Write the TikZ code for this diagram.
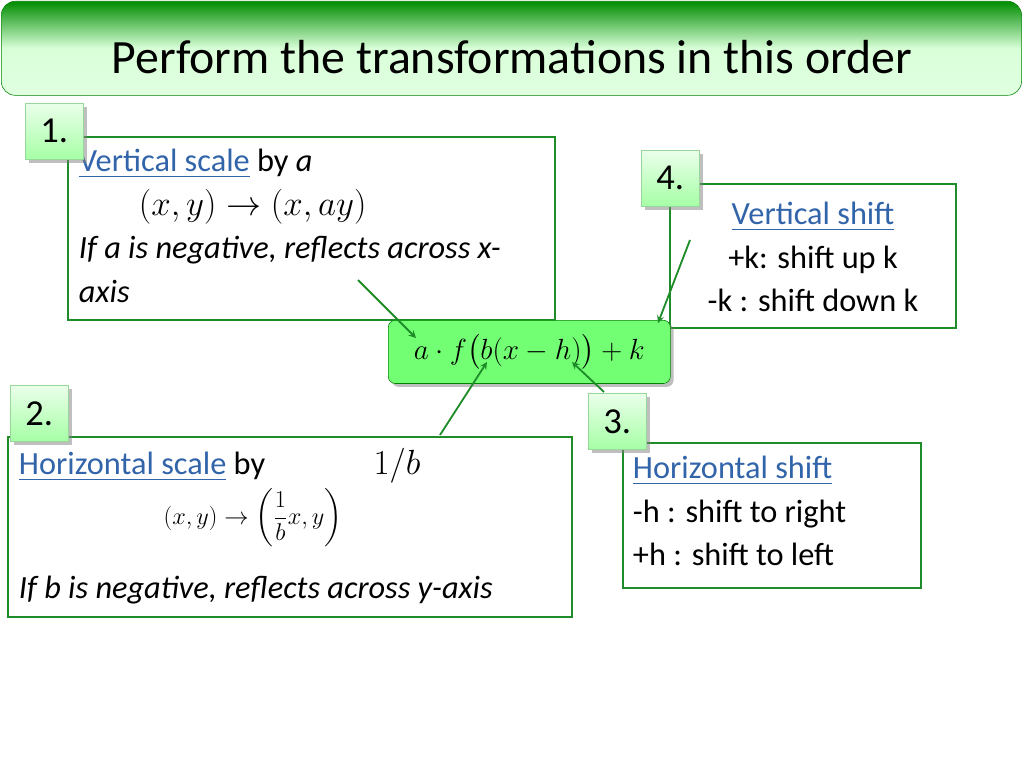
\documentclass[tikz,border=0pt]{standalone}
\usepackage{amsmath}
\usepackage{fontspec}
\setmainfont{Carlito}
\usetikzlibrary{shadows}
\definecolor{boxgreen}{RGB}{30,140,40}
\definecolor{headblue}{RGB}{50,100,170}
\newcommand{\hd}[1]{\textcolor{headblue}{\underline{#1}}}
\tikzset{
  framebox/.style={draw=boxgreen, line width=1.2pt, anchor=north west, inner sep=0pt},
  bodytext/.style={font=\fontsize{23}{31}\selectfont},
  numtag/.style={draw=green!60!black!40, top color=green!8, bottom color=green!35,
    drop shadow, minimum width=1.45cm, minimum height=1.4cm, font=\fontsize{26}{30}\selectfont, anchor=north west},
  pointer/.style={draw=boxgreen, line width=1.3pt, ->, >=stealth}
}
\begin{document}
\begin{tikzpicture}[x=0.025cm,y=-0.025cm]
\useasboundingbox (0,0) rectangle (1024,768);
% title
\node[rounded corners=10pt, draw=green!50!black, top color=green!55!black, bottom color=green!12,
  middle color=green!15, minimum width=25.5cm, minimum height=2.35cm, anchor=north west] (title) at (1,1) {};
\node[font=\fontsize{34}{38}\selectfont] (ttext) at (512,57) {Perform the transformations in this order};
% boxes
\draw[framebox] (68,137) rectangle (555,320);
\node[anchor=north west, align=left, bodytext] (vs) at (74,144)
  {\hd{Vertical scale} by \textit{a}\\
   \hspace{1.5cm}$(x,y)\rightarrow(x,ay)$\\
   \textit{If a is negative, reflects across x-}\\ \textit{axis}};
\draw[framebox] (670,184) rectangle (956,328);
\node[align=center, bodytext] (vsh) at (813,257)
  {\hd{Vertical shift}\\ +k: shift up k\\ -k : shift down k};
\draw[framebox] (8,437) rectangle (572,617);
\node[anchor=west, bodytext] (hs) at (14,467) {\hd{Horizontal scale} by};
\node[font=\fontsize{34}{38}\selectfont] (ib) at (397,466) {$1/b$};
\node[font=\fontsize{19}{23}\selectfont] (hm) at (253,518) {$(x,y)\rightarrow\left(\dfrac{1}{b}x,y\right)$};
\node[anchor=west, bodytext] (hn) at (14,590) {\textit{If b is negative, reflects across y-axis}};
\draw[framebox] (623,443) rectangle (921,588);
\node[anchor=north west, align=left, bodytext] (hsh) at (628,451)
  {\hd{Horizontal shift}\\ -h : shift to right\\ +h : shift to left};
% formula
\node[rounded corners=5pt, draw=green!50!black, fill=green!55, drop shadow, minimum width=7.05cm,
  minimum height=1.58cm, anchor=north west, font=\fontsize{22}{26}\selectfont] (fm) at (388,320)
  {$a\cdot f\big(b(x-h)\big)+k$};
% tags
\node[numtag] (t1) at (25,103) {1.};
\node[numtag] (t4) at (641,150) {4.};
\node[numtag] (t2) at (10,385) {2.};
\node[numtag] (t3) at (588,393) {3.};
% pointers
\coordinate (p1) at (358,280); \coordinate (q1) at (416,338);
\coordinate (p4) at (690,240); \coordinate (q4) at (658,323);
\coordinate (p2) at (440,435); \coordinate (q2) at (487,362);
\coordinate (p3) at (604,392); \coordinate (q3) at (572,362);
\draw[pointer] (p1) -- (q1);
\draw[pointer] (p4) -- (q4);
\draw[pointer] (p2) -- (q2);
\draw[pointer] (p3) -- (q3);
\end{tikzpicture}
\end{document}
